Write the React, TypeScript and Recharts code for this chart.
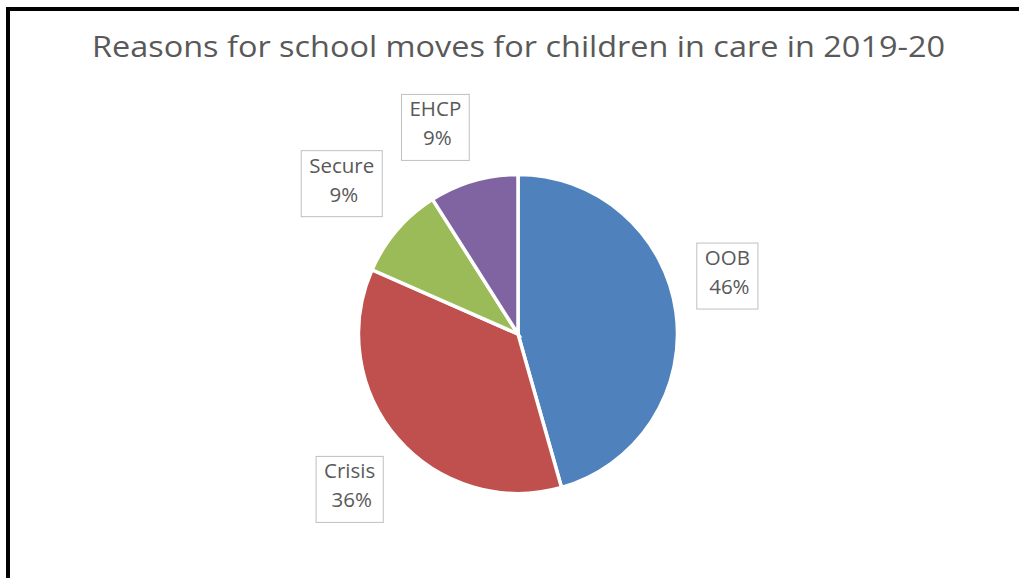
import React, { useLayoutEffect, useRef, useState } from 'react';
import { PieChart, Pie, Cell } from 'recharts';

const title = 'Reasons for school moves for children in care in 2019-20';
const categories = ['OOB', 'Crisis', 'Secure', 'EHCP'];
const shares = [45.6, 36.0, 9.4, 9.0];
const colors = ['#4F81BD', '#C0504D', '#9BBB59', '#8064A2'];

const data = categories.map((name, i) => ({ name, value: shares[i] }));

// label placement nudges (style, not data)
const labelNudge: Record<string, [number, number]> = {
  OOB: [-13, -27],
  Crisis: [1, 8],
  Secure: [-6, -4],
  EHCP: [-20, 9],
};

const FONT = '"Open Sans", "Noto Sans", sans-serif';
const TEXT = '#595959';
const RAD = Math.PI / 180;

function BoxLabel(props: any) {
  const { cx, cy, midAngle, outerRadius, percent, name } = props;
  const ref = useRef<SVGGElement>(null);
  const [w, setW] = useState(60);
  useLayoutEffect(() => {
    if (ref.current) {
      const b = ref.current.getBBox();
      if (Math.abs(b.width - w) > 0.5) setW(b.width);
    }
  });
  const r = outerRadius + 65;
  const [nx, ny] = labelNudge[name] || [0, 0];
  const x = cx + r * Math.cos(-midAngle * RAD) + nx;
  const y = cy + r * Math.sin(-midAngle * RAD) + ny;
  const bw = w + 16;
  const bh = 66;
  return (
    <g>
      <rect x={x - bw / 2} y={y - bh / 2} width={bw} height={bh} fill="#fff" stroke="#BFBFBF" strokeWidth={1} />
      <g ref={ref}>
        <text x={x} y={y - 11} textAnchor="middle" fontFamily={FONT} fontSize={20.5} fill={TEXT}>
          {name}
        </text>
        <text x={x + 2} y={y + 18} textAnchor="middle" fontFamily={FONT} fontSize={20.5} fill={TEXT}>
          {`${Math.round(percent * 100)}%`}
        </text>
      </g>
    </g>
  );
}

export default function App() {
  return (
    <div style={{ position: 'fixed', left: 0, top: 0, width: 1019, height: 578, background: '#fff', overflow: 'hidden' }}>
      <div
        style={{
          position: 'absolute',
          left: 6,
          top: 7,
          width: 1100,
          height: 700,
          borderLeft: '4px solid #000',
          borderTop: '4px solid #000',
        }}
      />
      <svg width={1019} height={578} style={{ position: 'absolute', left: 0, top: 0 }}>
        <text
          x={518.5}
          y={57}
          textAnchor="middle"
          fontFamily={FONT}
          fontSize={30}
          fill={TEXT}
          textLength={853}
          lengthAdjust="spacingAndGlyphs"
        >
          {title}
        </text>
      </svg>
      <div style={{ position: 'absolute', left: 0, top: 0 }}>
        <PieChart width={1019} height={578} margin={{ top: 0, right: 0, bottom: 0, left: 0 }}>
          <Pie
            data={data}
            dataKey="value"
            nameKey="name"
            cx={518}
            cy={334}
            outerRadius={159.5}
            startAngle={90}
            endAngle={-270}
            stroke="#fff"
            strokeWidth={3.5}
            isAnimationActive={false}
            labelLine={false}
            label={(p: any) => <BoxLabel {...p} />}
          >
            {data.map((d, i) => (
              <Cell key={d.name} fill={colors[i]} />
            ))}
          </Pie>
        </PieChart>
      </div>
    </div>
  );
}
